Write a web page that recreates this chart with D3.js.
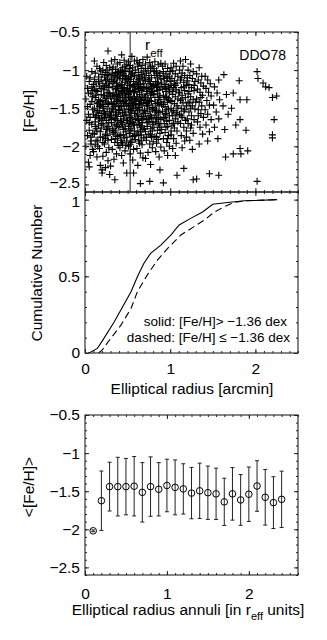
<html>
<meta charset="utf-8">
<style>
  body { margin: 0; background: #fff; }
  text { font-family: "Liberation Sans", Arial, Helvetica, sans-serif; fill: #000; }
</style>
<body>
<script src="https://d3js.org/d3.v7.min.js"></script>
<script>

// Top panel: individual stars, [elliptical radius (arcmin), [Fe/H]]
var stars = [
  [0.02,-1.08],[0.05,-1.15],[0.08,-1.02],[0.03,-1.24],[0.07,-1.31],[0.01,-1.38],[0.06,-1.45],[0.09,-1.52],[0.04,-1.58],[0.02,-1.66],[0.08,-1.71],[0.05,-1.79],[0.03,-1.86],[0.07,-1.93],[0.01,-2.0],[0.09,-2.04],[0.06,-2.12],[0.04,-2.21],[0.08,-1.22],[0.06,-1.62],[0.09,-1.35],[0.03,-1.48],[0.07,-1.88],[0.05,-2.27],
  [0.11,-0.88],[0.14,-0.95],[0.18,-1.01],[0.12,-1.04],[0.16,-1.09],[0.19,-1.13],[0.13,-1.17],[0.17,-1.21],[0.11,-1.25],[0.15,-1.28],[0.19,-1.32],[0.12,-1.36],[0.16,-1.39],[0.14,-1.43],[0.18,-1.46],[0.11,-1.5],[0.15,-1.53],[0.19,-1.57],[0.13,-1.6],[0.17,-1.64],[0.12,-1.68],[0.16,-1.72],[0.19,-1.76],[0.14,-1.8],[0.11,-1.84],[0.18,-1.88],[0.15,-1.93],[0.12,-1.98],[0.17,-2.03],[0.1,-2.07],[0.14,-2.14],[0.18,-2.25],[0.16,-1.15],[0.13,-1.27],[0.18,-1.41],[0.14,-1.55],[0.17,-1.48],[0.12,-1.74],[0.19,-1.66],[0.15,-2.0],[0.2,-2.31],[0.13,-1.92],
  [0.27,-0.75],[0.22,-0.9],[0.25,-0.94],[0.29,-0.97],[0.21,-1.0],[0.24,-1.03],[0.28,-1.06],[0.23,-1.09],[0.26,-1.12],[0.29,-1.15],[0.21,-1.18],[0.25,-1.2],[0.28,-1.23],[0.22,-1.26],[0.26,-1.29],[0.29,-1.31],[0.23,-1.34],[0.27,-1.37],[0.21,-1.4],[0.24,-1.42],[0.28,-1.45],[0.22,-1.48],[0.26,-1.51],[0.29,-1.54],[0.23,-1.57],[0.27,-1.6],[0.21,-1.63],[0.25,-1.66],[0.28,-1.69],[0.22,-1.72],[0.26,-1.76],[0.29,-1.8],[0.24,-1.84],[0.21,-1.88],[0.27,-1.92],[0.23,-1.97],[0.28,-2.02],[0.25,-2.08],[0.21,-2.13],[0.27,-2.19],[0.24,-2.28],[0.29,-2.37],[0.2,-2.35],[0.26,-1.07],[0.23,-1.22],[0.27,-1.44],[0.24,-1.58],[0.28,-1.3],[0.22,-1.55],[0.26,-1.86],
  [0.31,-0.88],[0.35,-0.86],[0.38,-0.92],[0.33,-0.96],[0.36,-0.99],[0.39,-1.02],[0.32,-1.04],[0.35,-1.07],[0.38,-1.1],[0.31,-1.12],[0.34,-1.15],[0.37,-1.17],[0.4,-1.2],[0.32,-1.22],[0.36,-1.25],[0.39,-1.27],[0.33,-1.3],[0.37,-1.32],[0.3,-1.35],[0.34,-1.37],[0.38,-1.39],[0.31,-1.42],[0.35,-1.44],[0.39,-1.47],[0.32,-1.5],[0.36,-1.52],[0.33,-1.55],[0.37,-1.58],[0.3,-1.6],[0.34,-1.63],[0.38,-1.66],[0.31,-1.69],[0.35,-1.71],[0.39,-1.74],[0.32,-1.77],[0.36,-1.8],[0.33,-1.84],[0.38,-1.87],[0.31,-1.91],[0.35,-1.95],[0.39,-1.99],[0.32,-2.04],[0.37,-2.1],[0.34,-2.17],[0.3,-2.26],[0.35,-2.44],[0.33,-1.09],[0.37,-1.24],[0.34,-1.48],[0.39,-1.56],[0.32,-1.34],[0.36,-1.64],[0.38,-1.05],[0.34,-1.82],[0.4,-1.4],
  [0.43,-0.8],[0.41,-0.9],[0.46,-0.87],[0.49,-0.93],[0.44,-0.97],[0.47,-1.0],[0.42,-1.03],[0.45,-1.05],[0.48,-1.08],[0.41,-1.11],[0.44,-1.13],[0.47,-1.16],[0.5,-1.18],[0.42,-1.21],[0.46,-1.23],[0.49,-1.26],[0.43,-1.28],[0.47,-1.31],[0.41,-1.33],[0.44,-1.36],[0.48,-1.38],[0.42,-1.41],[0.45,-1.43],[0.49,-1.46],[0.43,-1.48],[0.46,-1.51],[0.41,-1.53],[0.44,-1.56],[0.48,-1.58],[0.42,-1.61],[0.45,-1.64],[0.49,-1.66],[0.43,-1.69],[0.47,-1.72],[0.41,-1.75],[0.45,-1.78],[0.48,-1.81],[0.42,-1.85],[0.46,-1.89],[0.49,-1.93],[0.44,-1.97],[0.41,-2.02],[0.47,-2.06],[0.43,-2.12],[0.45,-2.22],[0.49,-2.35],[0.46,-1.07],[0.43,-1.19],[0.48,-1.34],[0.45,-1.27],[0.41,-1.47],[0.47,-1.55],[0.44,-1.71],[0.49,-1.12],[0.42,-1.92],[0.46,-1.41],[0.48,-1.99],[0.44,-1.02],
  [0.55,-0.82],[0.51,-0.89],[0.58,-0.88],[0.53,-0.94],[0.56,-0.97],[0.59,-1.0],[0.52,-1.02],[0.55,-1.04],[0.58,-1.07],[0.51,-1.1],[0.54,-1.12],[0.57,-1.15],[0.6,-1.17],[0.52,-1.2],[0.56,-1.22],[0.59,-1.25],[0.53,-1.27],[0.57,-1.3],[0.51,-1.32],[0.54,-1.35],[0.58,-1.37],[0.52,-1.4],[0.55,-1.42],[0.59,-1.45],[0.53,-1.47],[0.56,-1.5],[0.51,-1.52],[0.54,-1.55],[0.58,-1.57],[0.52,-1.6],[0.55,-1.63],[0.59,-1.65],[0.53,-1.68],[0.57,-1.71],[0.51,-1.74],[0.55,-1.77],[0.58,-1.8],[0.52,-1.83],[0.56,-1.87],[0.59,-1.91],[0.54,-1.95],[0.51,-2.0],[0.57,-2.04],[0.53,-2.1],[0.56,-2.18],[0.57,-2.35],[0.54,-1.08],[0.57,-1.19],[0.52,-1.29],[0.59,-1.39],[0.55,-1.53],[0.53,-1.62],[0.58,-1.72],[0.56,-1.44],[0.6,-1.84],[0.53,-1.98],[0.58,-1.28],[0.51,-1.47],
  [0.61,-0.87],[0.64,-0.9],[0.68,-0.86],[0.62,-0.95],[0.66,-0.98],[0.69,-1.01],[0.63,-1.03],[0.67,-1.06],[0.61,-1.09],[0.64,-1.11],[0.68,-1.14],[0.62,-1.17],[0.65,-1.19],[0.69,-1.22],[0.63,-1.24],[0.66,-1.27],[0.61,-1.29],[0.64,-1.32],[0.68,-1.34],[0.62,-1.37],[0.65,-1.39],[0.69,-1.42],[0.63,-1.45],[0.67,-1.47],[0.61,-1.5],[0.64,-1.52],[0.68,-1.55],[0.62,-1.58],[0.66,-1.61],[0.69,-1.63],[0.63,-1.66],[0.67,-1.69],[0.61,-1.72],[0.65,-1.75],[0.68,-1.78],[0.62,-1.81],[0.66,-1.85],[0.69,-1.89],[0.63,-1.93],[0.67,-1.98],[0.61,-2.03],[0.65,-2.09],[0.68,-2.15],[0.62,-2.25],[0.65,-2.49],[0.66,-1.08],[0.63,-1.21],[0.67,-1.36],[0.64,-1.44],[0.69,-1.57],[0.62,-1.64],[0.66,-1.73],[0.64,-1.96],[0.6,-1.41],[0.67,-1.25],
  [0.73,-0.83],[0.71,-0.92],[0.76,-0.9],[0.79,-0.95],[0.74,-0.98],[0.77,-1.01],[0.72,-1.04],[0.75,-1.07],[0.78,-1.1],[0.71,-1.13],[0.74,-1.15],[0.77,-1.18],[0.8,-1.21],[0.72,-1.23],[0.76,-1.26],[0.79,-1.28],[0.73,-1.31],[0.77,-1.33],[0.71,-1.36],[0.74,-1.38],[0.78,-1.41],[0.72,-1.44],[0.75,-1.46],[0.79,-1.49],[0.73,-1.51],[0.76,-1.54],[0.71,-1.57],[0.74,-1.6],[0.78,-1.62],[0.72,-1.65],[0.75,-1.68],[0.79,-1.71],[0.73,-1.74],[0.77,-1.77],[0.71,-1.81],[0.75,-1.84],[0.78,-1.88],[0.72,-1.92],[0.76,-1.97],[0.79,-2.02],[0.74,-2.08],[0.71,-2.16],[0.77,-2.24],[0.76,-2.46],[0.75,-1.12],[0.78,-1.3],[0.73,-1.47],[0.76,-1.64],[0.79,-1.8],[0.74,-1.24],
  [0.82,-0.89],[0.86,-0.93],[0.89,-0.91],[0.81,-0.98],[0.84,-1.01],[0.88,-1.04],[0.82,-1.07],[0.85,-1.1],[0.89,-1.12],[0.83,-1.15],[0.86,-1.18],[0.8,-1.2],[0.84,-1.23],[0.87,-1.26],[0.81,-1.28],[0.85,-1.31],[0.88,-1.34],[0.82,-1.36],[0.86,-1.39],[0.89,-1.42],[0.83,-1.44],[0.87,-1.47],[0.81,-1.5],[0.84,-1.53],[0.88,-1.56],[0.82,-1.59],[0.86,-1.62],[0.89,-1.65],[0.83,-1.68],[0.87,-1.72],[0.81,-1.75],[0.85,-1.79],[0.88,-1.83],[0.82,-1.87],[0.86,-1.91],[0.84,-1.96],[0.89,-2.01],[0.83,-2.07],[0.87,-2.14],[0.88,-2.31],[0.85,-1.17],[0.87,-1.36],[0.83,-1.55],[0.86,-1.7],[0.84,-1.04],
  [0.91,-0.95],[0.94,-0.92],[0.97,-0.98],[0.92,-1.02],[0.95,-1.05],[0.99,-1.08],[0.93,-1.11],[0.96,-1.14],[0.9,-1.17],[0.94,-1.19],[0.98,-1.22],[0.91,-1.25],[0.95,-1.28],[0.99,-1.3],[0.92,-1.33],[0.96,-1.36],[0.93,-1.39],[0.97,-1.42],[0.9,-1.45],[0.94,-1.48],[0.98,-1.51],[0.91,-1.54],[0.95,-1.57],[0.99,-1.6],[0.92,-1.63],[0.96,-1.67],[0.93,-1.7],[0.97,-1.74],[0.9,-1.78],[0.94,-1.82],[0.98,-1.86],[0.92,-1.9],[0.96,-1.95],[0.99,-2.0],[0.93,-2.06],[0.97,-2.12],[0.92,-2.48],[0.95,-1.24],[0.98,-1.38],[0.94,-1.58],
  [1.04,-0.91],[1.01,-0.97],[1.07,-0.95],[1.03,-1.01],[1.06,-1.05],[1.09,-1.08],[1.02,-1.11],[1.05,-1.14],[1.08,-1.17],[1.01,-1.2],[1.04,-1.23],[1.07,-1.26],[1.1,-1.29],[1.03,-1.32],[1.06,-1.35],[1.09,-1.38],[1.02,-1.41],[1.05,-1.44],[1.08,-1.47],[1.01,-1.5],[1.04,-1.53],[1.07,-1.56],[1.03,-1.6],[1.06,-1.64],[1.09,-1.68],[1.02,-1.72],[1.05,-1.76],[1.08,-1.8],[1.01,-1.85],[1.04,-1.9],[1.07,-1.96],[1.03,-2.03],[1.06,-2.12],[1.08,-2.38],[1.05,-1.18],[1.08,-1.58],
  [1.12,-0.88],[1.18,-0.86],[1.15,-0.95],[1.11,-1.0],[1.14,-1.04],[1.17,-1.07],[1.2,-1.1],[1.12,-1.13],[1.16,-1.16],[1.19,-1.2],[1.13,-1.23],[1.17,-1.27],[1.11,-1.3],[1.14,-1.33],[1.18,-1.36],[1.12,-1.4],[1.15,-1.43],[1.19,-1.47],[1.13,-1.5],[1.16,-1.54],[1.11,-1.58],[1.14,-1.62],[1.18,-1.66],[1.12,-1.7],[1.16,-1.75],[1.19,-1.8],[1.13,-1.86],[1.17,-1.93],[1.14,-2.02],[1.16,-2.29],
  [1.24,-0.92],[1.21,-1.0],[1.27,-1.02],[1.23,-1.07],[1.26,-1.11],[1.29,-1.15],[1.22,-1.19],[1.25,-1.23],[1.28,-1.27],[1.21,-1.31],[1.24,-1.35],[1.27,-1.39],[1.23,-1.43],[1.26,-1.47],[1.29,-1.51],[1.22,-1.55],[1.25,-1.6],[1.28,-1.65],[1.21,-1.7],[1.24,-1.76],[1.27,-1.83],[1.23,-1.92],[1.26,-2.04],[1.27,-2.44],
  [1.34,-0.97],[1.31,-1.05],[1.37,-1.08],[1.33,-1.13],[1.36,-1.17],[1.39,-1.21],[1.32,-1.25],[1.35,-1.29],[1.38,-1.33],[1.31,-1.38],[1.34,-1.42],[1.37,-1.47],[1.33,-1.52],[1.36,-1.57],[1.39,-1.62],[1.32,-1.68],[1.35,-1.75],[1.38,-1.84],[1.34,-1.97],[1.31,-2.43],
  [1.41,-1.08],[1.44,-1.13],[1.47,-1.18],[1.42,-1.24],[1.45,-1.29],[1.48,-1.34],[1.43,-1.4],[1.46,-1.46],[1.41,-1.52],[1.44,-1.58],[1.48,-1.65],[1.42,-1.72],[1.46,-1.81],[1.44,-1.93],[1.46,-2.36],
  [1.57,-1.13],[1.52,-1.22],[1.55,-1.3],[1.58,-1.39],[1.51,-1.46],[1.54,-1.55],[1.57,-1.64],[1.52,-1.75],[1.56,-1.9],[1.57,-2.38],
  [1.63,-1.06],[1.66,-1.32],[1.62,-1.47],[1.68,-1.58],[1.64,-1.78],[1.65,-2.14],
  [1.74,-1.3],[1.72,-1.5],[1.77,-1.72],[1.74,-2.1],
  [1.81,-1.14],[1.82,-1.39],[1.82,-1.65],[1.82,-2.03],[1.83,-2.1],[1.89,-1.79],
  [1.9,-1.39],[1.91,-2.06],
  [2.02,-1.02],[2.03,-1.11],[2.09,-1.17],[2.12,-1.22],[2.16,-1.23],[2.2,-1.36],[2.25,-1.34],[2.22,-1.65],[2.2,-1.85],[2.2,-1.89],[2.02,-2.46],
  // denser core
  [0.06,-1.1],[0.1,-1.19],[0.04,-1.3],[0.13,-1.33],[0.08,-1.41],[0.1,-1.58],[0.05,-1.69],[0.13,-1.77],[0.09,-1.83],[0.07,-1.97],[0.11,-1.12],[0.15,-1.44],[0.12,-1.62],[0.09,-1.27],
  [0.17,-0.98],[0.2,-1.06],[0.24,-1.14],[0.19,-1.24],[0.22,-1.33],[0.25,-1.37],[0.2,-1.45],[0.17,-1.53],[0.23,-1.62],[0.2,-1.7],[0.27,-1.74],[0.18,-1.81],[0.24,-1.9],[0.21,-1.95],[0.26,-1.0],[0.28,-1.18],[0.21,-1.5],[0.25,-1.78],[0.16,-1.6],[0.29,-1.62],
  [0.32,-0.99],[0.36,-1.03],[0.4,-1.08],[0.33,-1.17],[0.38,-1.21],[0.35,-1.33],[0.41,-1.3],[0.37,-1.41],[0.33,-1.45],[0.4,-1.52],[0.36,-1.6],[0.31,-1.65],[0.42,-1.67],[0.37,-1.73],[0.33,-1.79],[0.4,-1.86],[0.36,-1.9],[0.43,-1.95],[0.35,-1.13],[0.39,-1.35],[0.31,-1.55],[0.44,-1.24],[0.38,-1.95],[0.42,-1.0],
  [0.47,-0.95],[0.52,-0.98],[0.56,-1.05],[0.48,-1.11],[0.53,-1.15],[0.58,-1.22],[0.46,-1.3],[0.51,-1.36],[0.56,-1.38],[0.48,-1.44],[0.53,-1.52],[0.59,-1.53],[0.46,-1.6],[0.5,-1.66],[0.56,-1.69],[0.47,-1.77],[0.53,-1.79],[0.58,-1.86],[0.49,-1.88],[0.55,-1.93],[0.5,-1.24],[0.57,-1.47],[0.45,-1.85],[0.52,-1.7],
  [0.62,-0.92],[0.67,-0.94],[0.71,-0.98],[0.63,-1.12],[0.7,-1.1],[0.65,-1.23],[0.72,-1.28],[0.61,-1.35],[0.66,-1.4],[0.73,-1.42],[0.64,-1.49],[0.7,-1.53],[0.61,-1.6],[0.67,-1.64],[0.73,-1.69],[0.64,-1.71],[0.7,-1.77],[0.63,-1.86],[0.72,-1.88],[0.66,-1.92],[0.69,-1.18],[0.62,-1.53],[0.7,-1.36],[0.65,-1.8],
  [0.77,-0.96],[0.81,-1.02],[0.87,-1.07],[0.76,-1.15],[0.83,-1.19],[0.88,-1.22],[0.8,-1.32],[0.76,-1.4],[0.85,-1.43],[0.79,-1.52],[0.86,-1.55],[0.77,-1.6],[0.84,-1.64],[0.8,-1.68],[0.88,-1.75],[0.77,-1.85],[0.84,-1.88],[0.8,-1.94],[0.85,-1.27],[0.78,-1.22],
  [0.92,-1.08],[0.97,-1.1],[1.0,-1.15],[0.93,-1.22],[0.99,-1.26],[1.03,-1.28],[0.95,-1.35],[1.0,-1.4],[0.92,-1.45],[0.96,-1.52],[1.02,-1.55],[0.94,-1.62],[0.99,-1.66],[1.04,-1.7],[0.95,-1.75],[1.01,-1.8],[0.97,-1.9],[1.06,-1.2],[1.0,-1.02],[1.09,-1.5],
  [1.13,-1.1],[1.2,-1.14],[1.16,-1.22],[1.22,-1.28],[1.14,-1.38],[1.21,-1.42],[1.17,-1.52],[1.24,-1.5],[1.13,-1.6],[1.2,-1.64],[1.28,-1.2],[1.3,-1.42],[1.33,-1.6],[1.25,-1.72],[1.19,-1.88],[1.36,-1.36]
];
var rEff = 0.53;

// Middle panel: cumulative distributions
var cumSolidR = [0.04, 0.07, 0.145, 0.22, 0.34, 0.46, 0.54, 0.615, 0.69, 0.77, 0.89, 1.01, 1.105, 1.24, 1.38, 1.5, 1.675, 1.87, 2.0, 2.255];
var cumSolidN = [0, 0.007, 0.03, 0.094, 0.2, 0.32, 0.4, 0.497, 0.584, 0.65, 0.704, 0.77, 0.835, 0.878, 0.92, 0.97, 0.982, 0.993, 0.995, 1.0];
var cumDashedR = [0.16, 0.2, 0.3, 0.42, 0.54, 0.615, 0.73, 0.85, 0.97, 1.125, 1.28, 1.4, 1.52, 1.635, 1.75, 1.87, 2.0, 2.255];
var cumDashedN = [0, 0.018, 0.094, 0.18, 0.29, 0.4, 0.508, 0.606, 0.682, 0.77, 0.824, 0.867, 0.92, 0.954, 0.982, 0.992, 0.995, 1.0];

// Bottom panel: mean [Fe/H] in elliptical annuli
var annulusR = [0.1, 0.2, 0.3, 0.4, 0.5, 0.6, 0.7, 0.8, 0.9, 1.0, 1.1, 1.2, 1.3, 1.4, 1.5, 1.6, 1.7, 1.8, 1.9, 2.0, 2.1, 2.2, 2.3, 2.4];
var meanFeH = [-2.02, -1.625, -1.44, -1.44, -1.44, -1.435, -1.515, -1.44, -1.475, -1.425, -1.45, -1.47, -1.525, -1.495, -1.52, -1.535, -1.64, -1.535, -1.615, -1.54, -1.432, -1.58, -1.65, -1.607];
var errFeH = [0.012, 0.39, 0.32, 0.385, 0.37, 0.39, 0.39, 0.39, 0.35, 0.345, 0.36, 0.33, 0.337, 0.363, 0.35, 0.337, 0.31, 0.345, 0.333, 0.357, 0.332, 0.365, 0.34, 0.37];

var fehTicks = [-2.5, -2, -1.5, -1, -0.5];
var cumTicks = [0, 0.5, 1];
var radiusTicks = [0, 1, 2];

var svg = d3.select("body").append("svg")
    .attr("width", 327)
    .attr("height", 640);

var left = 85, right = 298;

var xTop = d3.scaleLinear().domain([0, 2.5]).range([left, right]);
var yTop = d3.scaleLinear().domain([-2.6, -0.5]).range([192, 32]);
var yCum = d3.scaleLinear().domain([0, 1.05]).range([353, 192]);
var xBot = d3.scaleLinear().domain([0, 2.6]).range([left, right]);
var yBot = d3.scaleLinear().domain([-2.6, -0.5]).range([575, 415]);

var fmt = d3.format("~g");
var fontBig = 15.5;

// box with inward ticks on all four sides (MATLAB style)
function drawFrame(x, y, xMajor, yMajor, nx, ny, labelX, xPad) {
    var g = svg.append("g");
    var xr = x.range(), yr = y.range();
    var sides = [
        {axis: d3.axisBottom(x), t: "translate(0," + yr[0] + ")", major: xMajor, minor: x.ticks(nx), label: labelX},
        {axis: d3.axisTop(x), t: "translate(0," + yr[1] + ")", major: xMajor, minor: x.ticks(nx), label: false},
        {axis: d3.axisLeft(y), t: "translate(" + xr[0] + ",0)", major: yMajor, minor: y.ticks(ny), label: true},
        {axis: d3.axisRight(y), t: "translate(" + xr[1] + ",0)", major: yMajor, minor: y.ticks(ny), label: false}
    ];
    var leftAxis;
    sides.forEach(function(s, i) {
        var pad = i == 0 ? xPad : 5;
        g.append("g")
            .attr("transform", s.t)
            .call(s.axis.tickValues(s.minor).tickSizeInner(-2).tickSizeOuter(0).tickFormat(""))
            .call(function(a) { a.select(".domain").remove(); });
        var a = g.append("g")
            .attr("transform", s.t)
            .call(s.axis.tickValues(s.major).tickSizeInner(-4).tickSizeOuter(0).tickPadding(pad)
                .tickFormat(s.label ? fmt : ""));
        a.select(".domain").remove();
        a.attr("font-size", fontBig).attr("font-family", null);
        if (i == 2) leftAxis = a;
    });
    g.selectAll(".tick line").attr("stroke", "#222");
    g.append("rect")
        .attr("x", xr[0]).attr("y", yr[1])
        .attr("width", xr[1] - xr[0]).attr("height", yr[0] - yr[1])
        .attr("fill", "none")
        .attr("stroke", "#222")
        .attr("stroke-width", 1.1);
    return leftAxis;
}

// ---------- top panel ----------
svg.append("line")
    .attr("x1", xTop(rEff)).attr("x2", xTop(rEff))
    .attr("y1", yTop(-0.5)).attr("y2", yTop(-2.6))
    .attr("stroke", "#222");

svg.append("g").selectAll("path")
    .data(stars)
    .enter()
    .append("path")
    .attr("transform", function(d) { return "translate(" + xTop(d[0]) + "," + yTop(d[1]) + ")"; })
    .attr("d", "M-3.5,0H3.5M0,-3.5V3.5")
    .attr("stroke", "#000")
    .attr("stroke-width", 1.1)
    .attr("fill", "none");

var topLeft = drawFrame(xTop, yTop, radiusTicks, fehTicks, 25, 21, false, 10);
// lowest label sits just above the middle panel's "1"
topLeft.selectAll(".tick text").filter(function(d) { return d == -2.5; }).attr("y", -1.5);

var reffLabel = svg.append("text")
    .attr("x", 145)
    .attr("y", 50)
    .attr("font-size", fontBig)
    .text("r");
reffLabel.append("tspan").attr("dy", 6.5).attr("font-size", 11.5).text("eff");

svg.append("text")
    .attr("x", 286).attr("y", 60)
    .attr("text-anchor", "end")
    .attr("font-size", 14)
    .text("DDO78");

svg.append("text")
    .attr("transform", "translate(34,111) rotate(-90)")
    .attr("text-anchor", "middle")
    .attr("font-size", fontBig)
    .text("[Fe/H]");

// ---------- middle panel ----------
var cumLine = d3.line()
    .x(function(d) { return xTop(d[0]); })
    .y(function(d) { return yCum(d[1]); });

svg.append("path")
    .attr("d", cumLine(d3.zip(cumSolidR, cumSolidN)))
    .attr("fill", "none")
    .attr("stroke", "#000")
    .attr("stroke-width", 1.1);

svg.append("path")
    .attr("d", cumLine(d3.zip(cumDashedR, cumDashedN)))
    .attr("fill", "none")
    .attr("stroke", "#000")
    .attr("stroke-width", 1.1)
    .attr("stroke-dasharray", "7,4");

var midLeft = drawFrame(xTop, yCum, radiusTicks, cumTicks, 25, 10, true, 10);
midLeft.selectAll(".tick text").filter(function(d) { return d == 1; }).attr("y", 1.5);

svg.append("text")
    .attr("x", 287).attr("y", 325.5)
    .attr("text-anchor", "end")
    .attr("font-size", 13.5)
    .text("solid: [Fe/H]> \u22121.36 dex");
svg.append("text")
    .attr("x", 290).attr("y", 341.5)
    .attr("text-anchor", "end")
    .attr("font-size", 13.5)
    .text("dashed: [Fe/H] \u2264 \u22121.36 dex");

svg.append("text")
    .attr("transform", "translate(42,273) rotate(-90)")
    .attr("text-anchor", "middle")
    .attr("font-size", fontBig)
    .text("Cumulative Number");

svg.append("text")
    .attr("x", 192).attr("y", 394)
    .attr("text-anchor", "middle")
    .attr("font-size", fontBig)
    .text("Elliptical radius [arcmin]");

// ---------- bottom panel ----------
var annuli = annulusR.map(function(r, i) {
    return {r: r, mean: meanFeH[i], err: errFeH[i]};
});

var bars = svg.append("g").selectAll("g")
    .data(annuli)
    .enter()
    .append("g");

bars.append("line")
    .attr("x1", function(d) { return xBot(d.r); })
    .attr("x2", function(d) { return xBot(d.r); })
    .attr("y1", function(d) { return yBot(d.mean + d.err); })
    .attr("y2", function(d) { return yBot(d.mean - d.err); })
    .attr("stroke", "#222");
bars.selectAll(".cap")
    .data(function(d) { return [d.mean + d.err, d.mean - d.err].map(function(v) { return {r: d.r, v: v}; }); })
    .enter()
    .append("line")
    .attr("class", "cap")
    .attr("x1", function(d) { return xBot(d.r) - 2; })
    .attr("x2", function(d) { return xBot(d.r) + 2; })
    .attr("y1", function(d) { return yBot(d.v); })
    .attr("y2", function(d) { return yBot(d.v); })
    .attr("stroke", "#222");
bars.append("circle")
    .attr("cx", function(d) { return xBot(d.r); })
    .attr("cy", function(d) { return yBot(d.mean); })
    .attr("r", 3.3)
    .attr("fill", "none")
    .attr("stroke", "#000");

drawFrame(xBot, yBot, radiusTicks, fehTicks, 26, 21, true, 13);

svg.append("text")
    .attr("transform", "translate(34,487) rotate(-90)")
    .attr("text-anchor", "middle")
    .attr("font-size", fontBig)
    .text("<[Fe/H]>");

var botLabel = svg.append("text")
    .attr("x", 188).attr("y", 615)
    .attr("text-anchor", "middle")
    .attr("font-size", fontBig);
botLabel.append("tspan").text("Elliptical radius annuli [in r");
botLabel.append("tspan").attr("dy", 5).attr("font-size", 11).text("eff");
botLabel.append("tspan").attr("dy", -5).text(" units]");

</script>
</body>
</html>
